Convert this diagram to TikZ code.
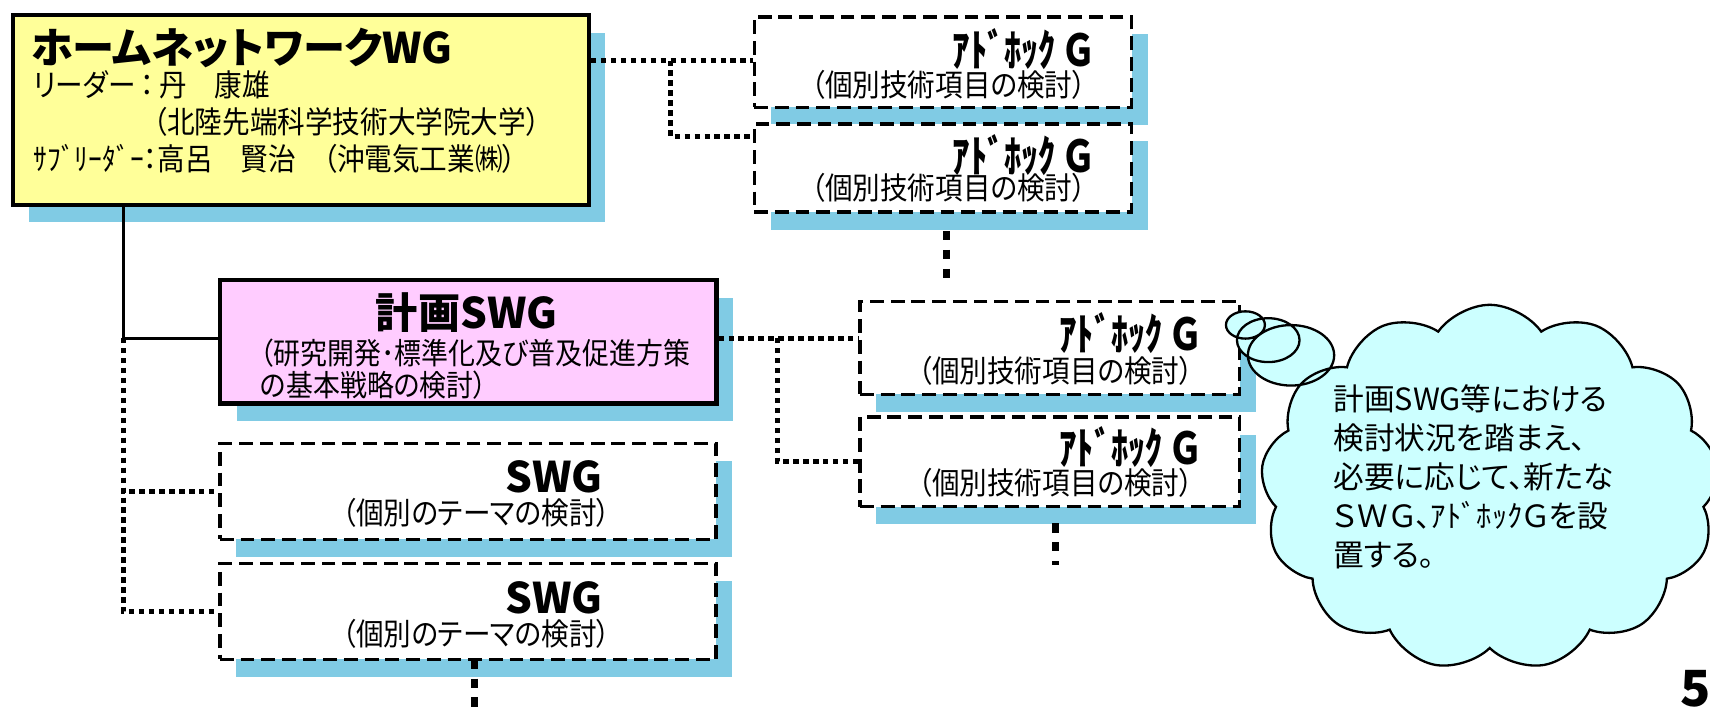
\documentclass[tikz,border=0pt]{standalone}
\usepackage{fontspec}
\setmainfont{Noto Sans CJK JP}[RawFeature=+palt]
\newfontfamily\estreita{Noto Sans CJK JP}[RawFeature=+palt, FakeStretch=0.9]
\newfontfamily\adhocfonte{Noto Sans CJK JP}[RawFeature=+palt, FakeStretch=0.78]
\usetikzlibrary{shapes.callouts,shadows}

\definecolor{amarelo}{HTML}{FFFF99}
\definecolor{rosa}{HTML}{FFCCFF}
\definecolor{sombra}{RGB}{128,203,228}
\definecolor{ciano}{HTML}{CCFFFF}

\begin{document}
\begin{tikzpicture}[
    caixa/.style={rectangle, draw=black, line width=1.1pt, inner sep=0pt, anchor=north west,
        general shadow={fill=sombra, shadow xshift=0.15cm, shadow yshift=-0.16cm}},
    tracejada/.style={caixa, fill=white, line width=0.9pt, dash pattern=on 3.6pt off 1.8pt},
    titulo/.style={inner sep=0pt, font=\fontsize{11}{11}\selectfont\bfseries},
    titadhoc/.style={inner sep=0pt, font=\adhocfonte\fontsize{11.5}{11.5}\selectfont\bfseries},
    texto/.style={inner sep=0pt, font=\estreita\fontsize{8}{8.2}\selectfont, align=left},
    linha/.style={line width=0.8pt},
    pontilhado/.style={line width=1.3pt, dash pattern=on 1.4pt off 1.2pt},
    reticencias/.style={line width=1.9pt, dash pattern=on 2.4pt off 2.5pt},
    nuvem/.style={cloud callout, draw, fill=ciano, line width=0.6pt, cloud puffs=13, cloud puff arc=110,
        aspect=1.3, minimum width=4.2cm, minimum height=3.35cm, inner sep=0pt,
        callout pointer segments=3,
        callout pointer start size=.24 of callout, callout pointer end size=.085 of callout}
]
    \useasboundingbox (0,0) rectangle (15.68,-6.56);

    % Caixa do WG
    \node[caixa, fill=amarelo, minimum width=5.28cm, minimum height=1.74cm] (wg) at (0.10,-0.12) {};
    \node[titulo, anchor=west] (wgtitulo) at (0.28,-0.44) {ホームネットワークWG};
    \node[texto, anchor=west] (wglider) at (0.30,-0.78) {リーダー\,：\,丹　康雄};
    \node[texto, anchor=west] (wgescola) at (1.40,-1.12) {（北陸先端科学技術大学院大学）};
    \node[texto, anchor=west] (wgsub) at (0.30,-1.46) {ｻﾌﾞﾘｰﾀﾞｰ：高呂　賢治　（沖電気工業㈱）};

    % Caixa do 計画SWG
    \node[caixa, fill=rosa, minimum width=4.55cm, minimum height=1.13cm] (keikaku) at (2.00,-2.55) {};
    \node[titulo] (keikakutitulo) at (4.28,-2.87) {計画SWG};
    \node[texto, anchor=north west, font=\estreita\fontsize{7.8}{7.4}\selectfont] (keikakutexto) at (2.38,-3.10)
        {（研究開発･標準化及び普及促進方策\\の基本戦略の検討）};

    % SWG individuais
    \node[tracejada, minimum width=4.55cm, minimum height=0.88cm] (swgA) at (2.00,-4.05) {};
    \node[titulo] (swgAtitulo) at (5.08,-4.37) {SWG};
    \node[texto] (swgAtexto) at (4.37,-4.70) {（個別のテーマの検討）};
    \node[tracejada, minimum width=4.55cm, minimum height=0.88cm] (swgB) at (2.00,-5.15) {};
    \node[titulo] (swgBtitulo) at (5.08,-5.48) {SWG};
    \node[texto] (swgBtexto) at (4.37,-5.81) {（個別のテーマの検討）};

    % Grupos ad hoc
    \node[tracejada, minimum width=3.46cm, minimum height=0.83cm] (adhocA) at (6.90,-0.14) {};
    \node[titadhoc] (adhocAtitulo) at (9.38,-0.45) {ｱﾄﾞﾎｯｸ Ｇ};
    \node[texto] (adhocAtexto) at (8.70,-0.78) {（個別技術項目の検討）};
    \node[tracejada, minimum width=3.46cm, minimum height=0.81cm] (adhocB) at (6.90,-1.12) {};
    \node[titadhoc] (adhocBtitulo) at (9.38,-1.42) {ｱﾄﾞﾎｯｸ Ｇ};
    \node[texto] (adhocBtexto) at (8.70,-1.72) {（個別技術項目の検討）};
    \node[tracejada, minimum width=3.48cm, minimum height=0.85cm] (adhocC) at (7.87,-2.75) {};
    \node[titadhoc] (adhocCtitulo) at (10.36,-3.05) {ｱﾄﾞﾎｯｸ Ｇ};
    \node[texto] (adhocCtexto) at (9.68,-3.40) {（個別技術項目の検討）};
    \node[tracejada, minimum width=3.48cm, minimum height=0.82cm] (adhocD) at (7.87,-3.81) {};
    \node[titadhoc] (adhocDtitulo) at (10.36,-4.10) {ｱﾄﾞﾎｯｸ Ｇ};
    \node[texto] (adhocDtexto) at (9.68,-4.43) {（個別技術項目の検討）};

    % Ligacoes
    \coordinate (jWG) at (1.13,-3.10);
    \draw[linha] (wg.south -| jWG) -- (jWG) -- (keikaku.west |- jWG);
    \draw[pontilhado] (jWG) |- (swgA.west);
    \draw[pontilhado] (jWG) |- (swgB.west);

    \coordinate (jTopo) at (6.15,-0.555);
    \draw[pontilhado] (wg.east |- jTopo) -- (adhocA.west |- jTopo);
    \draw[pontilhado] (jTopo) |- ([yshift=-0.13cm]adhocB.north west);

    \coordinate (jMeio) at (7.13,-3.10);
    \draw[pontilhado] (keikaku.east |- jMeio) -- (adhocC.west |- jMeio);
    \draw[pontilhado] (jMeio) |- (adhocD.west);

    % Continuacao (...)
    \coordinate (contA1) at (8.68,-2.12);
    \coordinate (contA2) at (8.68,-2.56);
    \draw[reticencias] (contA1) -- (contA2);
    \coordinate (contB1) at (9.68,-4.80);
    \coordinate (contB2) at (9.68,-5.18);
    \draw[reticencias] (contB1) -- (contB2);
    \coordinate (contC1) at (4.35,-6.05);
    \coordinate (contC2) at (4.35,-6.56);
    \draw[reticencias] (contC1) -- (contC2);

    % Nuvem com a nota
    \node[nuvem, callout absolute pointer={(11.42,-2.98)}] (nota) at (13.66,-4.47) {};
    \node[texto, anchor=north west, font=\fontsize{8}{10.2}\selectfont] (notatexto) at (12.22,-3.52)
        {計画SWG等における\\検討状況を踏まえ、\\必要に応じて、新たな\\ＳＷＧ、ｱﾄﾞﾎｯｸＧを設\\置する。};

    % Numero da pagina
    \node[inner sep=0pt, font=\fontsize{13}{13}\selectfont\bfseries] (pagina) at (15.55,-6.32) {5};
\end{tikzpicture}
\end{document}
